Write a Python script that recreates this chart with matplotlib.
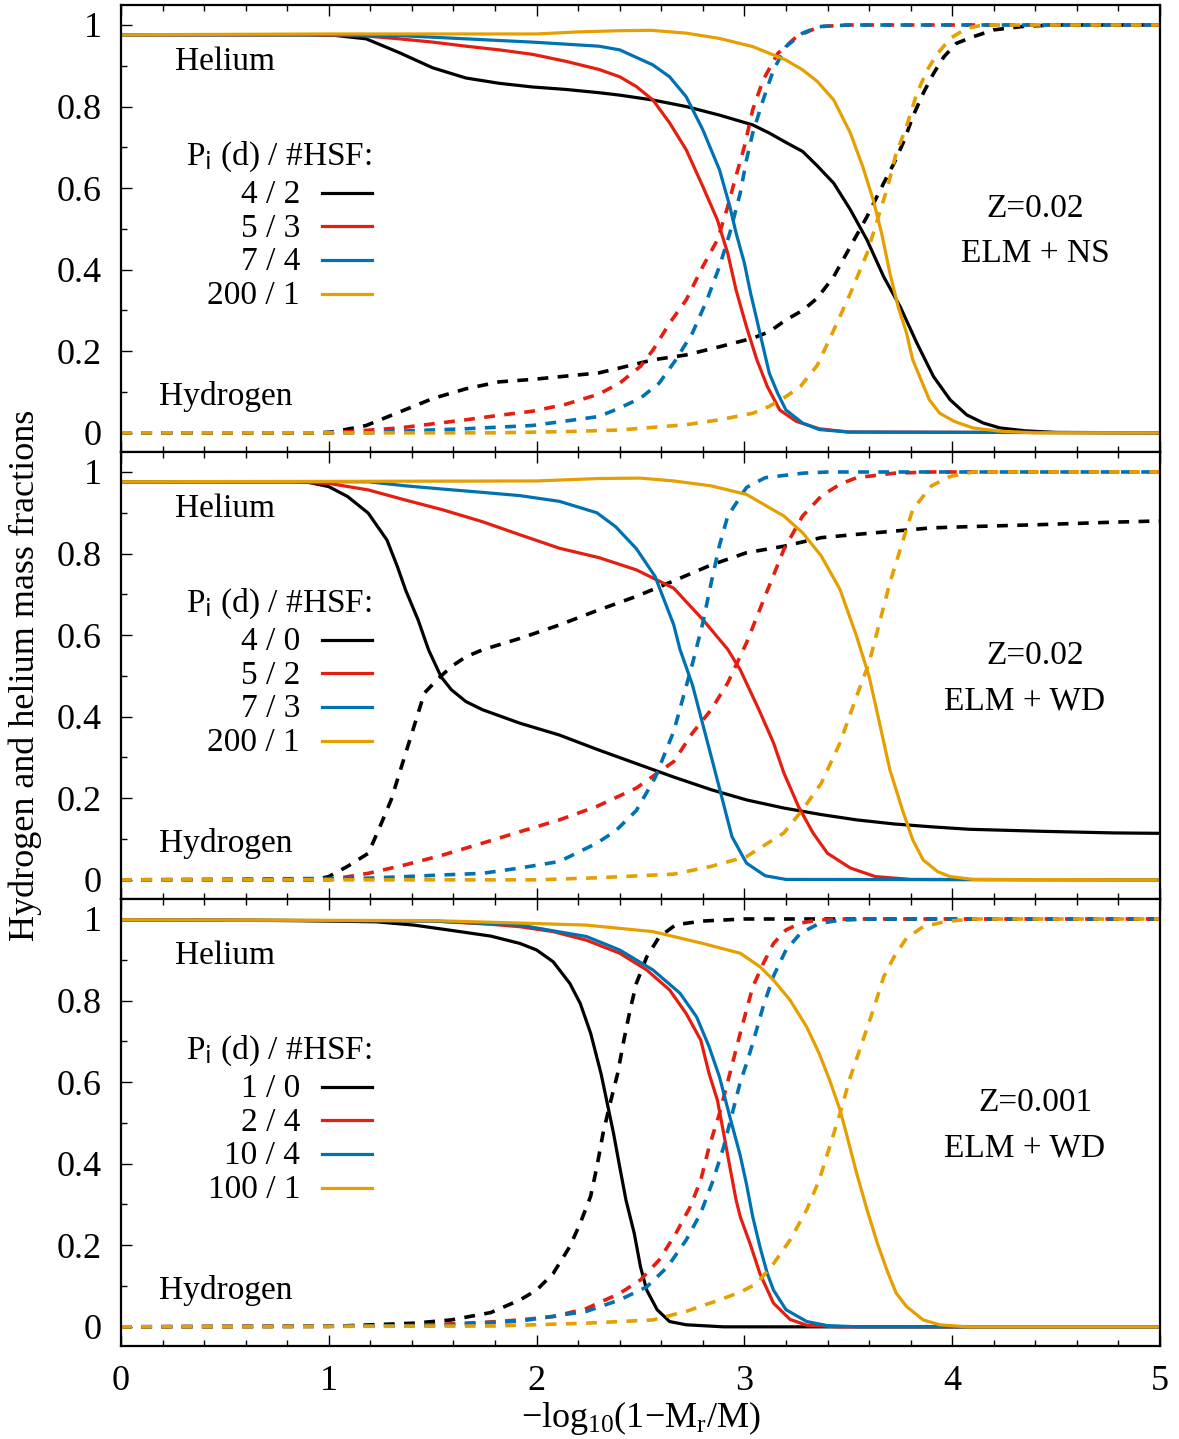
import matplotlib
matplotlib.use('Agg')
import matplotlib.pyplot as plt
import numpy as np

plt.rcParams['font.family'] = ['Liberation Serif', 'DejaVu Serif']
plt.rcParams['mathtext.default'] = 'regular'

# ---- data: (x, mass fraction) ----
x_ticks = [0, 1, 2, 3, 4, 5]
x_ticklabels = ['0', '1', '2', '3', '4', '5']
y_ticks = [0, 0.2, 0.4, 0.6, 0.8, 1.0]
y_ticklabels = ['0', '0.2', '0.4', '0.6', '0.8', '1']

colors = ['black', '#e51e10', '#0072b2', '#e69f00']

# panel 1: Z=0.02, ELM + NS
ns_labels = ['4 / 2', '5 / 3', '7 / 4', '200 / 1']
ns_he_1 = [(0, 0.976), (0.9, 0.976), (1.02, 0.975), (1.18, 0.966), (1.34, 0.932), (1.50, 0.895),
           (1.66, 0.870), (1.82, 0.857), (1.98, 0.848), (2.14, 0.842), (2.30, 0.834), (2.40, 0.828),
           (2.56, 0.816), (2.72, 0.800), (2.88, 0.779), (3.04, 0.755), (3.12, 0.735), (3.20, 0.712),
           (3.28, 0.690), (3.35, 0.655), (3.43, 0.612), (3.51, 0.547), (3.59, 0.473), (3.67, 0.383),
           (3.75, 0.309), (3.83, 0.220), (3.91, 0.138), (3.99, 0.081), (4.07, 0.044), (4.15, 0.024),
           (4.23, 0.012), (4.35, 0.005), (4.50, 0.001), (5, 0)]
ns_h_1 = [(0, 0), (0.95, 0), (1.02, 0.002), (1.18, 0.018), (1.34, 0.051), (1.50, 0.084), (1.66, 0.108),
          (1.82, 0.125), (1.98, 0.131), (2.14, 0.139), (2.30, 0.147), (2.40, 0.159), (2.56, 0.179),
          (2.72, 0.191), (2.88, 0.211), (3.04, 0.232), (3.12, 0.248), (3.20, 0.277), (3.28, 0.300),
          (3.35, 0.330), (3.43, 0.383), (3.51, 0.457), (3.59, 0.530), (3.67, 0.612), (3.72, 0.661),
          (3.77, 0.718), (3.81, 0.775), (3.86, 0.832), (3.91, 0.881), (3.96, 0.922), (4.02, 0.955),
          (4.10, 0.971), (4.20, 0.988), (4.35, 0.997), (4.50, 1.0), (5, 1.0)]
ns_he_2 = [(0, 0.976), (0.9, 0.976), (1.18, 0.973), (1.34, 0.966), (1.50, 0.958), (1.66, 0.948),
           (1.82, 0.939), (1.98, 0.928), (2.14, 0.911), (2.30, 0.891), (2.40, 0.873), (2.48, 0.849),
           (2.56, 0.816), (2.64, 0.760), (2.72, 0.694), (2.80, 0.604), (2.87, 0.522), (2.92, 0.440),
           (2.96, 0.350), (3.01, 0.260), (3.06, 0.179), (3.11, 0.114), (3.17, 0.056), (3.25, 0.028),
           (3.36, 0.010), (3.50, 0.002), (5, 0)]
ns_h_2 = [(0, 0), (1.0, 0), (1.18, 0.006), (1.34, 0.012), (1.50, 0.022), (1.66, 0.032), (1.82, 0.043),
          (1.98, 0.053), (2.14, 0.070), (2.30, 0.095), (2.40, 0.122), (2.50, 0.163), (2.56, 0.203),
          (2.64, 0.269), (2.72, 0.326), (2.80, 0.408), (2.87, 0.473), (2.92, 0.555), (2.95, 0.612),
          (3.00, 0.702), (3.04, 0.792), (3.09, 0.865), (3.16, 0.930), (3.25, 0.971), (3.36, 0.996),
          (3.50, 1.0), (5, 1.0)]
ns_he_3 = [(0, 0.976), (1.0, 0.976), (1.34, 0.974), (1.66, 0.966), (1.98, 0.958), (2.30, 0.948),
           (2.40, 0.939), (2.56, 0.902), (2.64, 0.873), (2.72, 0.824), (2.80, 0.743), (2.88, 0.645),
           (2.93, 0.555), (2.96, 0.490), (3.00, 0.416), (3.03, 0.342), (3.06, 0.277), (3.09, 0.211),
           (3.12, 0.146), (3.16, 0.097), (3.20, 0.056), (3.28, 0.024), (3.36, 0.008), (3.50, 0.002), (5, 0)]
ns_h_3 = [(0, 0), (1.2, 0), (1.34, 0.004), (1.66, 0.010), (1.98, 0.018), (2.30, 0.040), (2.40, 0.061),
          (2.50, 0.085), (2.59, 0.122), (2.67, 0.179), (2.75, 0.245), (2.82, 0.326), (2.88, 0.408),
          (2.93, 0.490), (2.98, 0.588), (3.01, 0.669), (3.04, 0.735), (3.09, 0.816), (3.14, 0.890),
          (3.20, 0.947), (3.28, 0.980), (3.36, 0.996), (3.50, 1.0), (5, 1.0)]
ns_he_4 = [(0, 0.976), (1.0, 0.978), (2.0, 0.978), (2.2, 0.983), (2.40, 0.986), (2.55, 0.987),
           (2.72, 0.980), (2.88, 0.967), (3.04, 0.947), (3.20, 0.914), (3.28, 0.890), (3.35, 0.862),
           (3.43, 0.816), (3.51, 0.735), (3.57, 0.652), (3.62, 0.571), (3.66, 0.490), (3.70, 0.392),
           (3.74, 0.309), (3.78, 0.245), (3.81, 0.179), (3.85, 0.130), (3.89, 0.081), (3.94, 0.048),
           (4.01, 0.028), (4.10, 0.012), (4.23, 0.004), (4.40, 0), (5, 0)]
ns_h_4 = [(0, 0), (1.8, 0), (2.14, 0.003), (2.40, 0.007), (2.72, 0.020), (2.88, 0.032), (3.04, 0.048),
          (3.12, 0.065), (3.20, 0.089), (3.27, 0.114), (3.35, 0.165), (3.43, 0.252), (3.51, 0.342),
          (3.59, 0.440), (3.64, 0.522), (3.69, 0.604), (3.73, 0.685), (3.78, 0.751), (3.83, 0.832),
          (3.88, 0.890), (3.93, 0.930), (3.99, 0.967), (4.07, 0.992), (4.15, 1.0), (5, 1.0)]

# panel 2: Z=0.02, ELM + WD
wd_labels = ['4 / 0', '5 / 2', '7 / 3', '200 / 1']
wd_he_1 = [(0, 0.976), (0.89, 0.976), (1.0, 0.964), (1.09, 0.940), (1.19, 0.899), (1.28, 0.833),
           (1.33, 0.768), (1.37, 0.710), (1.43, 0.637), (1.48, 0.564), (1.54, 0.498), (1.59, 0.466),
           (1.66, 0.437), (1.74, 0.417), (1.92, 0.384), (2.11, 0.355), (2.29, 0.320), (2.48, 0.285),
           (2.66, 0.252), (2.84, 0.221), (3.01, 0.196), (3.19, 0.176), (3.37, 0.160), (3.54, 0.147),
           (3.72, 0.137), (3.90, 0.130), (4.08, 0.124), (4.43, 0.119), (4.78, 0.115), (5.0, 0.114)]
wd_h_1 = [(0, 0), (0.93, 0), (1.0, 0.008), (1.09, 0.033), (1.19, 0.065), (1.24, 0.123), (1.30, 0.196),
          (1.35, 0.278), (1.41, 0.376), (1.46, 0.458), (1.52, 0.490), (1.59, 0.523), (1.66, 0.547),
          (1.74, 0.564), (1.92, 0.592), (2.11, 0.625), (2.29, 0.660), (2.48, 0.695), (2.66, 0.733),
          (2.84, 0.772), (3.01, 0.802), (3.19, 0.818), (3.37, 0.839), (3.54, 0.847), (3.72, 0.855),
          (3.90, 0.863), (4.08, 0.866), (4.43, 0.871), (4.78, 0.877), (5.0, 0.880)]
wd_he_2 = [(0, 0.976), (0.82, 0.976), (1.0, 0.972), (1.19, 0.956), (1.37, 0.931), (1.55, 0.907),
           (1.74, 0.878), (1.92, 0.846), (2.11, 0.813), (2.30, 0.790), (2.48, 0.760), (2.66, 0.715),
           (2.80, 0.638), (2.92, 0.565), (2.98, 0.515), (3.07, 0.417), (3.14, 0.336), (3.19, 0.262),
           (3.26, 0.180), (3.33, 0.115), (3.40, 0.065), (3.51, 0.029), (3.63, 0.008), (3.80, 0.001), (5, 0)]
wd_h_2 = [(0, 0), (1.0, 0), (1.19, 0.016), (1.37, 0.037), (1.55, 0.061), (1.74, 0.090), (1.92, 0.118),
          (2.11, 0.147), (2.29, 0.180), (2.48, 0.225), (2.66, 0.290), (2.75, 0.360), (2.84, 0.417),
          (2.92, 0.483), (3.01, 0.581), (3.10, 0.696), (3.19, 0.810), (3.28, 0.892), (3.37, 0.941),
          (3.46, 0.970), (3.54, 0.986), (3.72, 0.997), (3.90, 1.0), (5, 1.0)]
wd_he_3 = [(0, 0.976), (1.19, 0.976), (1.37, 0.966), (1.55, 0.958), (1.74, 0.950), (1.92, 0.942),
           (2.11, 0.928), (2.29, 0.900), (2.38, 0.866), (2.48, 0.812), (2.57, 0.744), (2.66, 0.625),
           (2.69, 0.565), (2.75, 0.478), (2.84, 0.303), (2.89, 0.205), (2.94, 0.106), (3.01, 0.041),
           (3.10, 0.010), (3.20, 0.001), (5, 0)]
wd_h_3 = [(0, 0), (1.19, 0.004), (1.55, 0.012), (1.74, 0.016), (1.92, 0.029), (2.11, 0.045),
          (2.29, 0.090), (2.38, 0.120), (2.48, 0.170), (2.57, 0.250), (2.66, 0.364), (2.75, 0.530),
          (2.80, 0.630), (2.84, 0.728), (2.88, 0.820), (2.92, 0.892), (3.01, 0.962), (3.10, 0.986),
          (3.28, 0.997), (3.40, 1.0), (5, 1.0)]
wd_he_4 = [(0, 0.976), (1.0, 0.977), (2.0, 0.978), (2.3, 0.984), (2.5, 0.985), (2.66, 0.978),
           (2.84, 0.966), (3.01, 0.945), (3.19, 0.892), (3.28, 0.851), (3.37, 0.794), (3.46, 0.712),
           (3.54, 0.597), (3.60, 0.499), (3.65, 0.385), (3.70, 0.270), (3.76, 0.172), (3.81, 0.098),
           (3.86, 0.049), (3.93, 0.020), (3.99, 0.008), (4.10, 0.001), (5, 0)]
wd_h_4 = [(0, 0), (2.0, 0), (2.29, 0.005), (2.66, 0.014), (2.84, 0.033), (3.01, 0.057), (3.19, 0.115),
          (3.28, 0.172), (3.37, 0.237), (3.46, 0.336), (3.54, 0.450), (3.60, 0.532), (3.65, 0.630),
          (3.70, 0.728), (3.76, 0.827), (3.81, 0.908), (3.90, 0.966), (3.99, 0.989), (4.10, 1.0), (5, 1.0)]

# panel 3: Z=0.001, ELM + WD
lz_labels = ['1 / 0', '2 / 4', '10 / 4', '100 / 1']
lz_he_1 = [(0, 0.998), (0.86, 0.996), (1.23, 0.993), (1.41, 0.985), (1.59, 0.972), (1.78, 0.958),
           (1.92, 0.940), (2.00, 0.924), (2.08, 0.895), (2.16, 0.842), (2.21, 0.793), (2.26, 0.720),
           (2.31, 0.621), (2.34, 0.548), (2.37, 0.475), (2.40, 0.392), (2.43, 0.311), (2.47, 0.229),
           (2.50, 0.147), (2.53, 0.090), (2.58, 0.042), (2.64, 0.013), (2.72, 0.005), (2.90, 0), (5, 0)]
lz_h_1 = [(0, 0), (1.0, 0.001), (1.41, 0.009), (1.59, 0.017), (1.78, 0.035), (1.92, 0.066),
          (2.00, 0.090), (2.08, 0.131), (2.16, 0.197), (2.21, 0.254), (2.26, 0.320), (2.29, 0.392),
          (2.32, 0.475), (2.35, 0.540), (2.39, 0.621), (2.42, 0.703), (2.45, 0.777), (2.48, 0.842),
          (2.53, 0.907), (2.59, 0.956), (2.67, 0.986), (2.80, 0.995), (3.0, 1.0), (5, 1.0)]
lz_he_2 = [(0, 0.998), (1.5, 0.995), (1.78, 0.987), (1.92, 0.981), (2.08, 0.969), (2.24, 0.948),
           (2.40, 0.916), (2.53, 0.875), (2.64, 0.826), (2.72, 0.768), (2.79, 0.703), (2.83, 0.621),
           (2.87, 0.556), (2.90, 0.475), (2.93, 0.392), (2.96, 0.311), (2.98, 0.270), (3.03, 0.200),
           (3.075, 0.130), (3.14, 0.058), (3.22, 0.018), (3.30, 0.004), (3.45, 0), (5, 0)]
lz_h_2 = [(0, 0), (1.41, 0.003), (1.78, 0.012), (1.92, 0.017), (2.08, 0.025), (2.24, 0.045),
          (2.40, 0.082), (2.50, 0.115), (2.59, 0.164), (2.67, 0.229), (2.74, 0.295), (2.79, 0.360),
          (2.83, 0.441), (2.88, 0.523), (2.93, 0.621), (2.98, 0.720), (3.01, 0.777), (3.04, 0.833),
          (3.09, 0.890), (3.14, 0.940), (3.20, 0.973), (3.27, 0.990), (3.36, 0.998), (3.5, 1.0), (5, 1.0)]
lz_he_3 = [(0, 0.998), (1.5, 0.995), (1.92, 0.985), (2.24, 0.957), (2.40, 0.924), (2.56, 0.875),
           (2.69, 0.818), (2.77, 0.760), (2.83, 0.687), (2.88, 0.613), (2.93, 0.515), (2.98, 0.420),
           (3.01, 0.350), (3.04, 0.270), (3.075, 0.196), (3.11, 0.131), (3.14, 0.090), (3.20, 0.042),
           (3.30, 0.013), (3.40, 0.003), (3.55, 0), (5, 0)]
lz_h_3 = [(0, 0), (1.5, 0.003), (1.92, 0.014), (2.24, 0.038), (2.40, 0.066), (2.53, 0.098),
          (2.63, 0.147), (2.72, 0.213), (2.79, 0.279), (2.85, 0.360), (2.90, 0.441), (2.95, 0.540),
          (2.98, 0.600), (3.01, 0.645), (3.04, 0.695), (3.09, 0.785), (3.14, 0.860), (3.20, 0.924),
          (3.27, 0.965), (3.36, 0.989), (3.46, 0.997), (3.6, 1.0), (5, 1.0)]
lz_he_4 = [(0, 0.998), (1.5, 0.996), (1.92, 0.990), (2.24, 0.985), (2.56, 0.969), (2.80, 0.940),
           (2.98, 0.916), (3.075, 0.883), (3.14, 0.850), (3.22, 0.801), (3.30, 0.735), (3.36, 0.670),
           (3.41, 0.605), (3.46, 0.532), (3.49, 0.475), (3.54, 0.377), (3.59, 0.287), (3.64, 0.205),
           (3.685, 0.140), (3.73, 0.083), (3.78, 0.050), (3.86, 0.017), (3.94, 0.005), (4.07, 0), (5, 0)]
lz_h_4 = [(0, 0), (1.8, 0.002), (2.24, 0.009), (2.56, 0.017), (2.72, 0.038), (2.88, 0.066),
          (2.98, 0.085), (3.06, 0.106), (3.14, 0.155), (3.22, 0.213), (3.30, 0.287), (3.36, 0.360),
          (3.41, 0.441), (3.46, 0.523), (3.51, 0.613), (3.56, 0.687), (3.62, 0.777), (3.67, 0.858),
          (3.72, 0.907), (3.78, 0.953), (3.86, 0.981), (3.97, 0.994), (4.1, 1.0), (5, 1.0)]

panels = [
    (ns_labels, [ns_he_1, ns_he_2, ns_he_3, ns_he_4], [ns_h_1, ns_h_2, ns_h_3, ns_h_4], 'Z=0.02', 'ELM + NS'),
    (wd_labels, [wd_he_1, wd_he_2, wd_he_3, wd_he_4], [wd_h_1, wd_h_2, wd_h_3, wd_h_4], 'Z=0.02', 'ELM + WD'),
    (lz_labels, [lz_he_1, lz_he_2, lz_he_3, lz_he_4], [lz_h_1, lz_h_2, lz_h_3, lz_h_4], 'Z=0.001', 'ELM + WD'),
]


def xy(pts):
    a = np.array(pts)
    return a[:, 0], a[:, 1]


W, H = 1179, 1439
fig = plt.figure(figsize=(W / 100, H / 100), dpi=100)
ax_left, ax_right = 121 / W, 1160 / W
ax_h = 447 / H
tops = [5, 452, 899]

lw = 2.3
for i, (labels, he_list, h_list, ztxt, systxt) in enumerate(panels):
    ax = fig.add_axes([ax_left, 1 - (tops[i] + 447) / H, ax_right - ax_left, ax_h])

    for c, he, h in zip(colors, he_list, h_list):
        ax.plot(*xy(he), color=c, lw=lw, solid_joinstyle='round')
        ax.plot(*xy(h), color=c, lw=2.6, dashes=(3.0, 2.6), dash_capstyle='butt')

    ax.set_xlim(0, 5)
    ax.set_ylim(-0.047, 1.049)
    ax.set_xticks(x_ticks)
    ax.set_yticks(y_ticks)
    ax.set_yticklabels(y_ticklabels)
    ax.set_xticks(np.arange(0, 5.01, 0.2), minor=True)
    ax.set_yticks(np.arange(0, 1.01, 0.1), minor=True)
    if i == 2:
        ax.set_xticklabels(x_ticklabels)
    else:
        ax.set_xticklabels([])
    ax.tick_params(which='both', direction='in', top=True, right=False, labelsize=26, width=1.0)
    ax.tick_params(which='major', length=8, pad=14)
    ax.tick_params(which='minor', length=4)
    for s in ax.spines.values():
        s.set_linewidth(1.6)

    # hand-made legend (labels right aligned, sample line after)
    ax.text(0.2416, 0.642, r'P$_\mathrm{i}$ (d) / #HSF:', transform=ax.transAxes,
            ha='right', va='baseline', fontsize=24)
    for k, (c, lab) in enumerate(zip(colors, labels)):
        yb = 0.557 - k * 0.0752
        ax.text(0.1723, yb, lab, transform=ax.transAxes, ha='right', va='baseline', fontsize=24)
        ax.plot([0.1935, 0.2416], [yb + 0.023, yb + 0.023], transform=ax.transAxes, color=c, lw=lw)

    ax.text(0.052, 0.8535, 'Helium', transform=ax.transAxes, ha='left', va='baseline', fontsize=24)
    ax.text(0.0366, 0.105, 'Hydrogen', transform=ax.transAxes, ha='left', va='baseline', fontsize=24)
    ax.text(0.8797, 0.526, ztxt, transform=ax.transAxes, ha='center', va='baseline', fontsize=24)
    sys_x = 0.8797 if systxt.endswith('NS') else 0.870
    ax.text(sys_x, 0.425, systxt, transform=ax.transAxes, ha='center', va='baseline', fontsize=24)

fig.text(0.021, 0.5306, 'Hydrogen and helium mass fractions', rotation=90,
         ha='center', va='center', fontsize=26)
fig.text(0.5437, 0.0085, '\u2212log$_{10}$(1\u2212M$_r$/M)', ha='center', va='baseline', fontsize=26)

fig.savefig('out.png', dpi=100)
